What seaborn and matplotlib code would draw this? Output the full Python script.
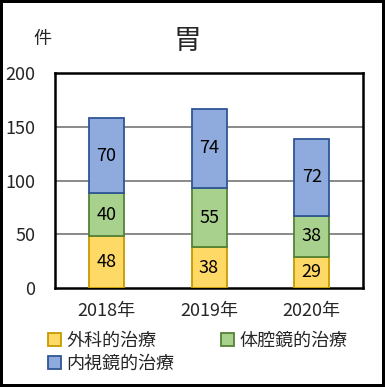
import matplotlib
matplotlib.use("Agg")
import matplotlib.pyplot as plt
import seaborn as sns
import pandas as pd
from matplotlib.patches import Patch

years = ["2018年", "2019年", "2020年"]
surgical = [48, 38, 29]
laparoscopic = [40, 55, 38]
endoscopic = [70, 74, 72]
series_names = ["外科的治療", "体腔鏡的治療", "内視鏡的治療"]
yticks = [0, 50, 100, 150, 200]

fills = ["#FFD966", "#A9D18E", "#8FAADC"]
edges = ["#C59A00", "#548235", "#2F5597"]

sns.set_theme(style="white")
plt.rcParams['font.family'] = ['Noto Sans CJK JP', 'DejaVu Sans']

fig = plt.figure(figsize=(3.85, 3.87), dpi=100)
fig.patch.set_edgecolor("black")
fig.patch.set_linewidth(3)
ax = fig.add_axes([0.143, 0.256, 0.80, 0.555])

df = pd.DataFrame({"year": years, "s": surgical, "l": laparoscopic, "e": endoscopic})
bottoms = [[0, 0, 0],
           surgical,
           [a + b for a, b in zip(surgical, laparoscopic)]]
cols = ["s", "l", "e"]
for i, c in enumerate(cols):
    sns.barplot(data=df, x="year", y=c, bottom=bottoms[i], color=fills[i],
                edgecolor=edges[i], linewidth=1.3, width=0.34, ax=ax,
                saturation=1, zorder=3)
    for j, v in enumerate(df[c]):
        ax.text(j, bottoms[i][j] + v / 2, str(v), ha="center", va="center",
                fontsize=13, color="black", zorder=4)

ax.set_ylim(0, 200)
ax.set_xlim(-0.5, 2.5)
ax.set_yticks(yticks)
ax.set_yticklabels([str(t) for t in yticks], fontsize=13)
ax.tick_params(axis="x", labelsize=13, length=0, pad=10)
ax.tick_params(axis="y", length=0, pad=14)
ax.set_xlabel("")
ax.set_ylabel("")
for t in yticks[1:-1]:
    ax.axhline(t, color="#808080", linewidth=1.3, zorder=1)
for sp in ax.spines.values():
    sp.set_visible(True)
    sp.set_color("black")
    sp.set_linewidth(1.8)

fig.text(0.487, 0.895, "胃", fontsize=20, ha="center", va="center")
fig.text(0.11, 0.9, "件", fontsize=13, ha="center", va="center")

handles = [Patch(facecolor=fills[k], edgecolor=edges[k], linewidth=1.3) for k in range(3)]
order = [0, 2, 1]
fig.legend([handles[k] for k in order], [series_names[k] for k in order],
           ncol=2, loc="upper left", bbox_to_anchor=(0.125, 0.143),
           frameon=False, fontsize=13, handlelength=0.7, handleheight=0.7,
           handletextpad=0.3, columnspacing=2.6, labelspacing=0.3,
           borderaxespad=0, borderpad=0)

fig.savefig("out.png", dpi=100)
